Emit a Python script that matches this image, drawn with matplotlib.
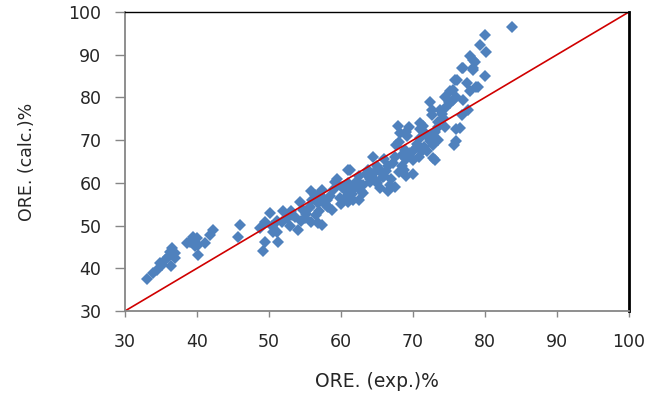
import matplotlib
matplotlib.use("Agg")
import matplotlib.pyplot as plt

ore_exp = [
    33.1, 33.9, 34.4, 34.9, 35.6, 36.0, 36.2, 36.5, 36.9, 36.4, 35.2, 37.0,
    38.6, 39.0, 39.4, 40.0, 40.1, 41.1, 40.1, 41.8, 42.2, 46.0, 45.7, 39.7,
    49.2, 49.4, 48.8, 50.1, 49.4, 50.4, 51.1, 51.3, 51.8, 52.5, 52.9, 53.6,
    54.0, 54.7, 55.7, 55.9, 57.3, 56.4, 55.9, 57.3, 58.0, 58.7, 59.2, 60.6,
    61.0, 59.9, 58.2, 55.0, 51.1, 53.2, 54.3, 56.8, 53.0, 55.2,
    61.3, 60.8, 61.7, 63.1, 64.0, 64.5, 65.2, 65.9, 66.8, 66.3, 67.2, 67.7,
    68.2, 67.9, 69.1, 69.6, 70.0, 71.0, 71.7, 72.4, 72.8, 72.6, 70.5, 68.9,
    65.4,
    78.6, 76.8, 78.4, 80.0, 75.8, 77.5, 75.6, 77.9, 78.8, 74.4, 77.0, 75.1,
    72.4, 72.6, 73.8, 76.8, 77.6, 73.5, 74.2, 76.5, 76.0, 72.8, 73.1, 71.4,
    71.9, 75.7, 76.0,
    83.8, 80.0, 79.3, 80.2, 77.9, 78.4, 76.9, 78.4, 76.1, 79.0, 75.1,
    56.5, 57.0, 57.8, 58.5, 57.0, 56.0, 55.5, 56.8, 60.0, 60.5, 61.5, 62.0,
    61.0, 62.5, 63.5, 64.5, 61.0, 62.5, 63.0, 64.0, 65.0, 65.5, 66.5, 66.0,
    67.0, 67.5, 66.5, 65.0, 68.0, 68.5, 69.0, 69.5, 70.0, 70.5, 71.0, 70.0,
    69.0, 68.5, 68.0, 69.0, 69.5, 71.0, 72.5, 73.0, 73.5, 74.0, 74.5, 75.0,
    75.5, 76.0, 72.0, 73.5, 74.5, 59.0, 59.5, 63.8, 64.8, 67.5, 70.8, 71.5,
    52.0, 50.5, 54.5, 58.0, 62.8, 66.0, 68.8, 71.2, 73.0, 60.2, 62.2, 57.5,
]
ore_calc = [
    37.5, 39.0, 39.6, 41.2, 42.0, 42.7, 43.9, 44.8, 43.6, 40.5, 40.8, 42.5,
    46.0, 46.2, 47.4, 47.1, 45.5, 46.0, 43.1, 47.8, 49.0, 50.1, 47.4, 45.2,
    44.1, 46.2, 49.4, 52.9, 50.9, 49.8, 48.6, 46.2, 50.9, 51.8, 49.8, 52.1,
    49.0, 53.7, 54.4, 50.9, 50.1, 57.2, 58.0, 58.3, 56.0, 53.7, 60.3, 58.3,
    63.0, 56.5, 54.4, 51.8, 51.0, 52.5, 55.6, 55.3, 53.5, 52.8,
    63.0, 58.3, 56.0, 57.6, 60.3, 66.1, 63.5, 61.4, 59.5, 62.7, 64.7, 68.9,
    71.7, 73.2, 70.9, 67.0, 65.4, 74.0, 71.7, 69.7, 65.8, 75.9, 68.5, 67.7,
    58.8,
    88.4, 86.8, 86.4, 84.9, 84.1, 83.3, 81.8, 81.4, 82.5, 80.2, 79.4, 78.7,
    79.0, 77.1, 77.1, 75.9, 77.1, 74.3, 75.2, 72.9, 69.7, 68.9, 65.4, 73.2,
    70.9, 68.9, 72.6,
    96.4, 94.6, 92.3, 90.7, 89.6, 88.8, 86.8, 86.8, 84.1, 82.5, 81.4,
    52.5, 53.5, 55.0, 57.0, 57.5, 56.0, 54.0, 50.5, 55.0, 56.5, 57.5, 59.0,
    60.0, 61.5, 62.0, 62.0, 55.5, 56.0, 59.5, 61.0, 60.0, 62.5, 64.0, 65.5,
    61.0, 59.0, 58.0, 64.0, 62.5, 64.0, 65.5, 66.5, 67.5, 69.0, 70.5, 62.0,
    61.5, 66.5, 69.5, 72.0, 73.0, 72.5, 71.0, 72.0, 73.0, 76.0, 77.5, 79.0,
    79.5, 80.0, 67.5, 70.0, 73.0, 58.5, 61.0, 63.0, 60.5, 66.0, 66.0, 68.5,
    53.5, 48.5, 51.0, 54.5, 58.0, 61.5, 63.0, 67.5, 69.5, 59.0, 60.5, 56.5,
]
ticks = [30, 40, 50, 60, 70, 80, 90, 100]

plt.rcParams['font.family'] = ['DejaVu Sans']

fig = plt.figure(figsize=(6.67, 3.95), dpi=100)
ax = fig.add_axes([0.1874, 0.2127, 0.7556, 0.7570])

ax.plot(ore_exp, ore_calc, linestyle='none', marker='D', markersize=6.5,
        color='#4F81BD', markeredgewidth=0)
ax.plot([30, 100], [30, 100], color='#D00000', linewidth=1.2)

ax.set_xlim(30, 100)
ax.set_ylim(30, 100)
ax.set_xticks(ticks)
ax.set_yticks(ticks)
ax.tick_params(axis='both', direction='out', width=1, color='#868686',
               labelsize=12.5, labelcolor='#262626')
ax.tick_params(axis='x', length=4, pad=12)
ax.tick_params(axis='y', length=7, pad=10)

for side in ['left', 'bottom']:
    ax.spines[side].set_color('#868686')
    ax.spines[side].set_linewidth(1.3)
for side in ['top', 'right']:
    ax.spines[side].set_color('black')
ax.spines['top'].set_linewidth(1.0)
ax.spines['right'].set_linewidth(2.0)

ax.set_xlabel('ORE. (exp.)%', fontsize=13.5, labelpad=15, color='#262626')
ax.set_ylabel('ORE. (calc.)%', fontsize=12.5, labelpad=23, color='#262626')

fig.savefig('out.png', dpi=100)
